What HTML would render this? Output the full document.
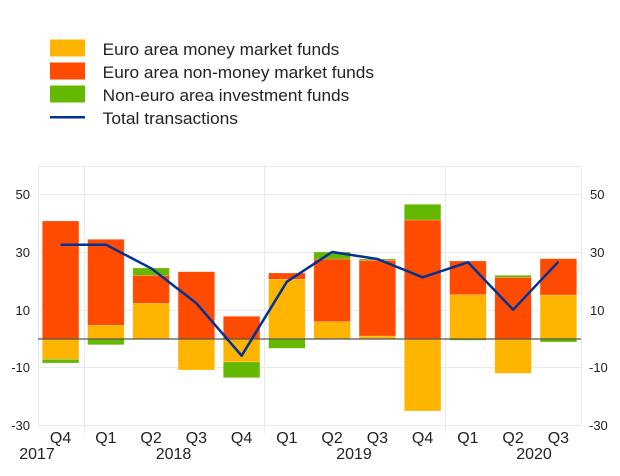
<!DOCTYPE html>
<html><head><meta charset="utf-8"><style>
html,body{margin:0;padding:0;background:#fff;}
svg{display:block;font-family:"Liberation Sans",Arial,sans-serif;}
</style></head><body>
<svg width="620" height="476" viewBox="0 0 620 476" xmlns="http://www.w3.org/2000/svg">
<!-- legend -->
<rect x="50" y="39.5" width="35" height="17" fill="#FFB400"/>
<rect x="50" y="62.5" width="35" height="17" fill="#FF4B00"/>
<rect x="50" y="85.5" width="35" height="17" fill="#65B800"/>
<line x1="50" y1="117.3" x2="85" y2="117.3" stroke="#003299" stroke-width="2.5"/>
<g font-size="17" fill="#222">
<text x="102.7" y="55" textLength="236.6" lengthAdjust="spacingAndGlyphs">Euro area money market funds</text>
<text x="102.7" y="78" textLength="271.3" lengthAdjust="spacingAndGlyphs">Euro area non-money market funds</text>
<text x="102.7" y="101" textLength="246.6" lengthAdjust="spacingAndGlyphs">Non-euro area investment funds</text>
<text x="102.7" y="124" textLength="135.3" lengthAdjust="spacingAndGlyphs">Total transactions</text>
</g>
<!-- grid -->
<g stroke="#e9e9e9" stroke-width="1" fill="none">
<rect x="38.5" y="166.5" width="543" height="259"/>
<line x1="38" y1="194.5" x2="581" y2="194.5"/>
<line x1="38" y1="252.5" x2="581" y2="252.5"/>
<line x1="38" y1="310.5" x2="581" y2="310.5"/>
<line x1="38" y1="367.5" x2="581" y2="367.5"/>
<line x1="84.5" y1="166" x2="84.5" y2="433"/>
<line x1="264.5" y1="166" x2="264.5" y2="433"/>
<line x1="445.5" y1="166" x2="445.5" y2="433"/>
</g>
<!-- bars -->
<g stroke="#ffffff" stroke-opacity="0.35" stroke-width="0.6">
<rect x="42.3" y="221" width="36.6" height="118" fill="#FF4B00"/>
<rect x="42.3" y="339" width="36.6" height="20.3" fill="#FFB400"/>
<rect x="42.3" y="359.3" width="36.6" height="3.7" fill="#65B800"/>
<rect x="87.6" y="325.3" width="36.6" height="13.7" fill="#FFB400"/>
<rect x="87.6" y="239.3" width="36.6" height="86" fill="#FF4B00"/>
<rect x="87.6" y="339" width="36.6" height="5.7" fill="#65B800"/>
<rect x="132.8" y="303.3" width="36.6" height="35.7" fill="#FFB400"/>
<rect x="132.8" y="275.3" width="36.6" height="28" fill="#FF4B00"/>
<rect x="132.8" y="268" width="36.6" height="7.3" fill="#65B800"/>
<rect x="178.1" y="271.7" width="36.6" height="67.3" fill="#FF4B00"/>
<rect x="178.1" y="339" width="36.6" height="31" fill="#FFB400"/>
<rect x="223.3" y="316.3" width="36.6" height="22.7" fill="#FF4B00"/>
<rect x="223.3" y="339" width="36.6" height="23" fill="#FFB400"/>
<rect x="223.3" y="362" width="36.6" height="15.7" fill="#65B800"/>
<rect x="268.6" y="279.3" width="36.6" height="59.7" fill="#FFB400"/>
<rect x="268.6" y="273" width="36.6" height="6.3" fill="#FF4B00"/>
<rect x="268.6" y="339" width="36.6" height="9.3" fill="#65B800"/>
<rect x="313.8" y="321.7" width="36.6" height="17.3" fill="#FFB400"/>
<rect x="313.8" y="259" width="36.6" height="62.7" fill="#FF4B00"/>
<rect x="313.8" y="252" width="36.6" height="7" fill="#65B800"/>
<rect x="359.1" y="336" width="36.6" height="3" fill="#FFB400"/>
<rect x="359.1" y="260.3" width="36.6" height="75.7" fill="#FF4B00"/>
<rect x="359.1" y="259" width="36.6" height="1.3" fill="#65B800"/>
<rect x="404.3" y="220" width="36.6" height="119" fill="#FF4B00"/>
<rect x="404.3" y="204.3" width="36.6" height="15.7" fill="#65B800"/>
<rect x="404.3" y="339" width="36.6" height="72" fill="#FFB400"/>
<rect x="449.6" y="294.7" width="36.6" height="44.3" fill="#FFB400"/>
<rect x="449.6" y="261" width="36.6" height="33.7" fill="#FF4B00"/>
<rect x="449.6" y="339" width="36.6" height="1.3" fill="#65B800"/>
<rect x="494.8" y="277.3" width="36.6" height="61.7" fill="#FF4B00"/>
<rect x="494.8" y="275.3" width="36.6" height="2" fill="#65B800"/>
<rect x="494.8" y="339" width="36.6" height="34.3" fill="#FFB400"/>
<rect x="540.1" y="295" width="36.6" height="44" fill="#FFB400"/>
<rect x="540.1" y="258.7" width="36.6" height="36.3" fill="#FF4B00"/>
<rect x="540.1" y="339" width="36.6" height="3" fill="#65B800"/>
</g>
<!-- zero line -->
<line x1="38" y1="339" x2="581" y2="339" stroke="#555" stroke-width="1.2"/>
<!-- total line -->
<polyline fill="none" stroke="#003299" stroke-width="2.5" stroke-linejoin="round"
points="60.6,244.7 105.9,244.7 151.1,268.3 196.4,303.3 241.6,355.7 286.9,281.7 332.1,252 377.4,259 422.6,277.3 467.9,262.3 513.1,309.7 558.4,261.7"/>
<!-- y tick labels -->
<g font-size="13" fill="#222">
<g text-anchor="end">
<text x="30" y="199">50</text>
<text x="30" y="257">30</text>
<text x="30" y="315">10</text>
<text x="30" y="372">-10</text>
<text x="30" y="430">-30</text>
</g>
<g text-anchor="start">
<text x="590" y="199">50</text>
<text x="590" y="257">30</text>
<text x="590" y="315">10</text>
<text x="589" y="372">-10</text>
<text x="589" y="430">-30</text>
</g>
</g>
<!-- x labels -->
<g font-size="16" fill="#222" text-anchor="middle">
<text x="60.6" y="443">Q4</text>
<text x="105.9" y="443">Q1</text>
<text x="151.1" y="443">Q2</text>
<text x="196.4" y="443">Q3</text>
<text x="241.6" y="443">Q4</text>
<text x="286.9" y="443">Q1</text>
<text x="332.1" y="443">Q2</text>
<text x="377.4" y="443">Q3</text>
<text x="422.6" y="443">Q4</text>
<text x="467.9" y="443">Q1</text>
<text x="513.1" y="443">Q2</text>
<text x="558.4" y="443">Q3</text>
<text x="37" y="459">2017</text>
<text x="173.5" y="459">2018</text>
<text x="354" y="459">2019</text>
<text x="534" y="459">2020</text>
</g>
</svg>
</body></html>
